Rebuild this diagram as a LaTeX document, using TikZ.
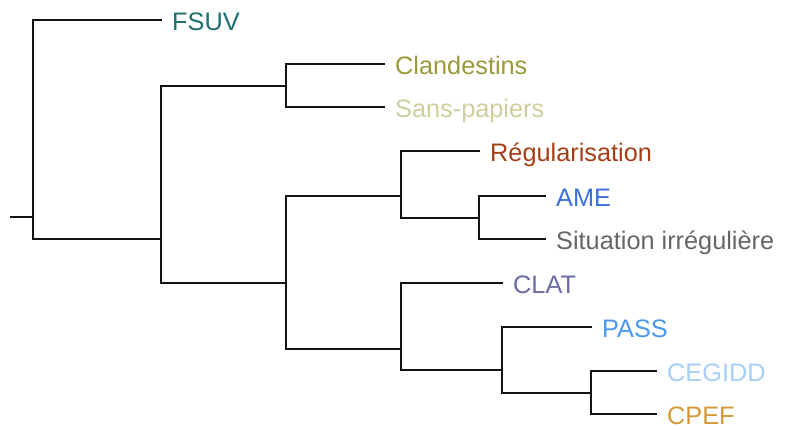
\documentclass[tikz,border=0pt]{standalone}
\usepackage{fontspec}
\setmainfont{Liberation Sans}
\definecolor{cFSUV}{HTML}{1D6E6E}
\definecolor{cClan}{HTML}{9A9A3C}
\definecolor{cSans}{HTML}{CFCF9E}
\definecolor{cReg}{HTML}{A63E18}
\definecolor{cAME}{HTML}{3B6FD9}
\definecolor{cSit}{HTML}{666666}
\definecolor{cCLAT}{HTML}{6B6BA3}
\definecolor{cPASS}{HTML}{4A98F2}
\definecolor{cCEG}{HTML}{A8CFF7}
\definecolor{cCPEF}{HTML}{D39A3C}
\begin{document}
\begin{tikzpicture}[x=1pt,y=-1pt,
  edge/.style={draw=black!93,line width=2.2pt,line cap=rect},
  lab/.style={anchor=base west,inner sep=0pt,font=\fontsize{25.3}{30}\selectfont}]
\useasboundingbox[fill=white] (0,0) rectangle (786,429);
% internal junctions
\coordinate (stub) at (11,217);
\coordinate (root) at (33,217);
\coordinate (n1) at (161,239);
\coordinate (n2) at (286,86);
\coordinate (n3) at (286,283);
\coordinate (n4) at (401,196);
\coordinate (n5) at (479,218);
\coordinate (n6) at (401,349);
\coordinate (n7) at (502,370);
\coordinate (n8) at (591,393);
% leaf ends
\coordinate (eFSUV) at (161,20);
\coordinate (eClan) at (384,64);
\coordinate (eSans) at (384,107);
\coordinate (eReg) at (479,151);
\coordinate (eAME) at (545,196);
\coordinate (eSit) at (545,239);
\coordinate (eCLAT) at (502,283);
\coordinate (ePASS) at (591,327);
\coordinate (eCEG) at (656,371);
\coordinate (eCPEF) at (656,414);
% edges
\path[edge] (stub) -- (root);
\path[edge] (root) |- (eFSUV);
\path[edge] (root) |- (n1);
\path[edge] (n1) |- (n2);
\path[edge] (n1) |- (n3);
\path[edge] (n2) |- (eClan);
\path[edge] (n2) |- (eSans);
\path[edge] (n3) |- (n4);
\path[edge] (n3) |- (n6);
\path[edge] (n4) |- (eReg);
\path[edge] (n4) |- (n5);
\path[edge] (n5) |- (eAME);
\path[edge] (n5) |- (eSit);
\path[edge] (n6) |- (eCLAT);
\path[edge] (n6) |- (n7);
\path[edge] (n7) |- (ePASS);
\path[edge] (n7) |- (n8);
\path[edge] (n8) |- (eCEG);
\path[edge] (n8) |- (eCPEF);
% labels
\path (eFSUV) ++(11,10.5) node[lab,text=cFSUV] (lFSUV) {FSUV};
\path (eClan) ++(11,10.5) node[lab,text=cClan] (lClan) {Clandestins};
\path (eSans) ++(11,10.5) node[lab,text=cSans] (lSans) {Sans-papiers};
\path (eReg) ++(11,10.5) node[lab,text=cReg] (lReg) {Régularisation};
\path (eAME) ++(11,10.5) node[lab,text=cAME] (lAME) {AME};
\path (eSit) ++(11,10.5) node[lab,text=cSit] (lSit) {Situation irrégulière};
\path (eCLAT) ++(11,10.5) node[lab,text=cCLAT] (lCLAT) {CLAT};
\path (ePASS) ++(11,10.5) node[lab,text=cPASS] (lPASS) {PASS};
\path (eCEG) ++(11,10.5) node[lab,text=cCEG] (lCEG) {CEGIDD};
\path (eCPEF) ++(11,10.5) node[lab,text=cCPEF] (lCPEF) {CPEF};
\end{tikzpicture}
\end{document}
